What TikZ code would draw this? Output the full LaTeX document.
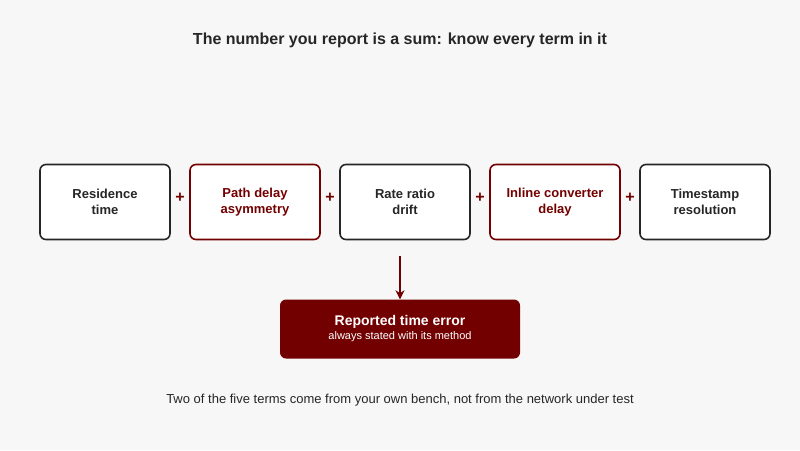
\documentclass[tikz,border=0pt]{standalone}
\usepackage{fontspec}
\setmainfont{Liberation Sans}
\usetikzlibrary{arrows.meta}
\begin{document}
\begin{tikzpicture}[x=1pt,y=-1pt,
 box/.style={draw=black!85,line width=1.6pt,rounded corners=6pt,fill=white,minimum width=130pt,minimum height=75pt,align=center,font=\bfseries\fontsize{13}{16}\selectfont,text=black!85},
 rbox/.style={box,draw=red!45!black,text=red!45!black},
 plus/.style={font=\bfseries\fontsize{16}{16}\selectfont,text=red!45!black}]
\fill[black!3] (0,0) rectangle (800,450);
\useasboundingbox (0,0) rectangle (800,450);
\node[font=\bfseries\fontsize{16}{19}\selectfont,text=black!85] (title) at (400,40) {The number you report is a sum: know every term in it};
\node[box] (a) at (105,202) {Residence\\time};
\node[rbox] (b) at (255,202) {Path delay\\asymmetry};
\node[box] (c) at (405,202) {Rate ratio\\drift};
\node[rbox] (d) at (555,202) {Inline converter\\delay};
\node[box] (e) at (705,202) {Timestamp\\resolution};
\node[plus] (p1) at (180,198) {+};
\node[plus] (p2) at (330,198) {+};
\node[plus] (p3) at (480,198) {+};
\node[plus] (p4) at (630,198) {+};
\node[fill=red!45!black,rounded corners=6pt,minimum width=240pt,minimum height=59pt,text=white,align=center] (r) at (400,329)
 {{\bfseries\fontsize{14}{17}\selectfont Reported time error}\\[2pt]{\fontsize{11}{13}\selectfont always stated with its method}};
\coordinate (s) at (400,256);
\draw[red!45!black,line width=1.8pt,-{Stealth[length=9pt,width=9pt]}] (s) -- (r.north);
\node[font=\fontsize{13}{16}\selectfont,text=black!85] (cap) at (400,400) {Two of the five terms come from your own bench, not from the network under test};
\end{tikzpicture}
\end{document}
